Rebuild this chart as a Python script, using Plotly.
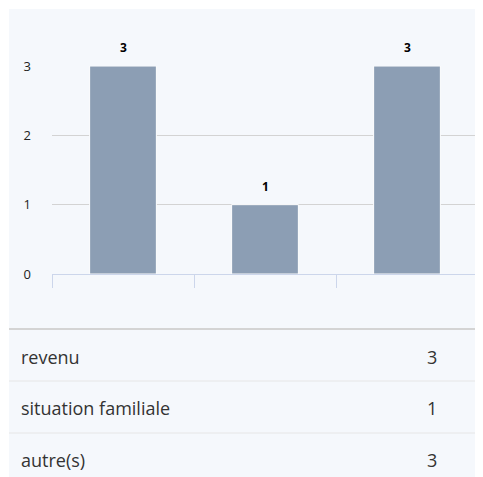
import plotly.graph_objects as go

categories = ["revenu", "situation familiale", "autre(s)"]
values = [3, 1, 3]
y_ticks = [0, 1, 2, 3]

# page body has an 8px default margin; the figure starts at (8, 8) on screen
OFF = 8
W, H = 483 - OFF, 477 - OFF
L, R, T, B = 52 - OFF, 5, 66 - OFF, 477 - 274
pw, ph = W - L - R, H - T - B

def px_x(x):
    return (x - OFF - L) / pw

def px_y(y):
    return (T + ph - (y - OFF)) / ph

bar_color = "#8c9eb4"
panel = "#f5f8fc"
font = "Open Sans"

fig = go.Figure()
fig.add_trace(go.Bar(
    x=categories, y=values, width=0.47,
    marker=dict(color=bar_color, line=dict(color="#ffffff", width=1)),
    hoverinfo="skip",
))

annotations = []
for c, v in zip(categories, values):
    annotations.append(dict(
        x=c, y=v, xref="x", yref="y", text="<b>%d</b>" % v, showarrow=False,
        yanchor="bottom", yshift=8, font=dict(family=font, size=12, color="#000000"),
    ))

shapes = [dict(type="rect", xref="paper", yref="paper", x0=px_x(9), x1=px_x(490),
               y0=px_y(490), y1=px_y(9), fillcolor=panel, line=dict(width=0), layer="below")]

row_y = [357, 408, 460]
sep_y = [329, 381, 433]
for i, yy in enumerate(sep_y):
    shapes.append(dict(type="line", xref="paper", yref="paper", x0=px_x(9), x1=px_x(490),
                       y0=px_y(yy), y1=px_y(yy),
                       line=dict(color="#d4d4d4" if i == 0 else "#e6e6e6", width=2 if i == 0 else 1)))

for c, v, yy in zip(categories, values, row_y):
    annotations.append(dict(x=px_x(19), y=px_y(yy), xref="paper", yref="paper", text=c,
                            showarrow=False, xanchor="left", yanchor="middle",
                            font=dict(family=font, size=18, color="#333333")))
    annotations.append(dict(x=px_x(432), y=px_y(yy), xref="paper", yref="paper", text=str(v),
                            showarrow=False, xanchor="center", yanchor="middle",
                            font=dict(family=font, size=18, color="#333333")))

fig.update_layout(
    width=W, height=H, margin=dict(l=L, r=R, t=T, b=B),
    paper_bgcolor="#ffffff", plot_bgcolor=panel,
    showlegend=False,
    annotations=annotations, shapes=shapes,
    xaxis=dict(type="category", tickson="boundaries", ticks="outside", ticklen=13,
               tickcolor="#ccd6eb", showticklabels=False, showgrid=False,
               showline=True, linecolor="#ccd6eb", linewidth=1, zeroline=False,
               fixedrange=True),
    yaxis=dict(range=[0, 3], tickvals=y_ticks, showgrid=True, gridcolor="#d3d3d3",
               gridwidth=1, zeroline=False, showline=False,
               tickfont=dict(family=font, size=13, color="#222222"),
               ticklabelstandoff=20, fixedrange=True),
)

fig.write_html("out.html", config={"displayModeBar": False})
